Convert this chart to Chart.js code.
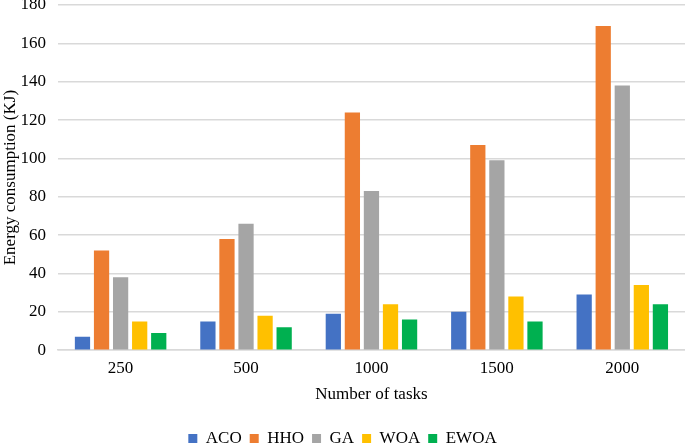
<!DOCTYPE html>
<html>
<head>
<meta charset="utf-8">
<script src="https://cdn.jsdelivr.net/npm/chart.js@4"></script>
<style>
  html, body { margin: 0; padding: 0; background: #fff; }
  #wrap { width: 685px; height: 444px; }
</style>
</head>
<body>
<div id="wrap"><canvas id="energyChart"></canvas></div>
<script>
// Number of tasks
const tasks = ['250', '500', '1000', '1500', '2000'];

// Energy consumption (KJ) per algorithm
const aco  = [7, 15, 19, 20, 29];
const hho  = [52, 58, 124, 107, 169];
const ga   = [38, 66, 83, 99, 138];
const woa  = [15, 18, 24, 28, 34];
const ewoa = [9, 12, 16, 15, 24];

const yTicks = [0, 20, 40, 60, 80, 100, 120, 140, 160, 180];

const serif = "'Liberation Serif', 'Times New Roman', serif";

function series(label, data, color) {
    return {
        label: label,
        data: data,
        backgroundColor: color,
        borderWidth: 0,
        barPercentage: 0.8,
        categoryPercentage: 0.76
    };
}

const ctx = document.getElementById('energyChart').getContext('2d');
const chart = new Chart(ctx, {
    type: 'bar',
    data: {
        labels: tasks,
        datasets: [
            series('ACO', aco, '#4472C4'),
            series('HHO', hho, '#ED7D31'),
            series('GA', ga, '#A5A5A5'),
            series('WOA', woa, '#FFC000'),
            series('EWOA', ewoa, '#00B050')
        ]
    },
    options: {
        responsive: true,
        maintainAspectRatio: false,
        animation: false,
        layout: { padding: { top: 5, right: 0, left: 0, bottom: -13 } },
        plugins: {
            tooltip: { enabled: false },
            legend: {
                position: 'bottom',
                labels: {
                    boxWidth: 9,
                    boxHeight: 9,
                    padding: 8,
                    color: '#000',
                    font: { family: serif, size: 17 }
                }
            }
        },
        scales: {
            x: {
                grid: { display: false },
                border: { color: '#d9d9d9', width: 1.5 },
                ticks: { color: '#000', font: { family: serif, size: 17 }, padding: 0 },
                title: {
                    display: true,
                    text: 'Number of tasks',
                    color: '#000',
                    font: { family: serif, size: 17 },
                    padding: { top: 6, bottom: 17 }
                }
            },
            y: {
                min: 0,
                max: 180,
                afterBuildTicks: function(axis) {
                    axis.ticks = yTicks.map(v => ({ value: v }));
                },
                afterFit: function(axis) {
                    axis.width -= 13;
                    axis.paddingTop = 0;
                },
                grid: { color: '#d9d9d9', lineWidth: 1.5, drawTicks: false },
                border: { display: false },
                ticks: { color: '#000', font: { family: serif, size: 17 }, padding: 12 },
                title: {
                    display: true,
                    text: 'Energy consumption (KJ)',
                    color: '#000',
                    font: { family: serif, size: 17 },
                    padding: { top: 0, bottom: 1 }
                }
            }
        }
    }
});
</script>
</body>
</html>
